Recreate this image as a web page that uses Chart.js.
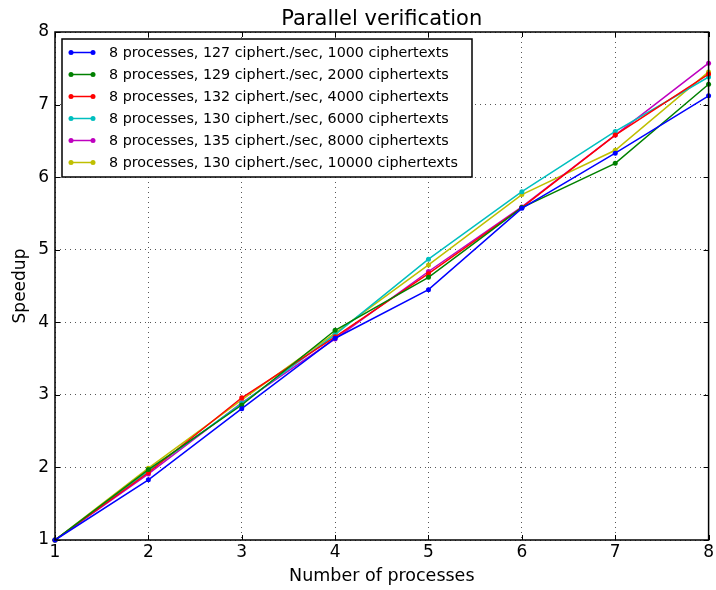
<!DOCTYPE html>
<html>
<head>
<meta charset="utf-8">
<script src="https://cdn.jsdelivr.net/npm/chart.js@4/dist/chart.umd.min.js"></script>
<style>
  html, body { margin: 0; padding: 0; background: #fff; }
  #wrap { width: 716px; height: 590px; position: relative; }
</style>
</head>
<body>
<div id="wrap"><canvas id="c" width="716" height="590"></canvas></div>
<script>
const processes = [1, 2, 3, 4, 5, 6, 7, 8];
const seriesLabels = [
  "8 processes, 127 ciphert./sec, 1000 ciphertexts",
  "8 processes, 129 ciphert./sec, 2000 ciphertexts",
  "8 processes, 132 ciphert./sec, 4000 ciphertexts",
  "8 processes, 130 ciphert./sec, 6000 ciphertexts",
  "8 processes, 135 ciphert./sec, 8000 ciphertexts",
  "8 processes, 130 ciphert./sec, 10000 ciphertexts"
];
const speedup1000  = [1, 1.83, 2.81, 3.78, 4.45, 5.57, 6.33, 7.12];
const speedup2000  = [1, 1.97, 2.86, 3.89, 4.62, 5.58, 6.19, 7.28];
const speedup4000  = [1, 1.93, 2.96, 3.80, 4.67, 5.58, 6.58, 7.42];
const speedup6000  = [1, 1.95, 2.88, 3.83, 4.87, 5.80, 6.63, 7.38];
const speedup8000  = [1, 1.91, 2.89, 3.77, 4.70, 5.59, 6.58, 7.57];
const speedup10000 = [1, 1.99, 2.93, 3.85, 4.79, 5.76, 6.37, 7.45];
const yTicks = [1, 2, 3, 4, 5, 6, 7, 8];
const titleText = "Parallel verification";
const xTitle = "Number of processes";
const yTitle = "Speedup";

const colors = ["#0000ff", "#008000", "#ff0000", "#00bfbf", "#bf00bf", "#bfbf00"];
const allSeries = [speedup1000, speedup2000, speedup4000, speedup6000, speedup8000, speedup10000];
const FONT = "'DejaVu Sans', sans-serif";

const datasets = allSeries.map((s, i) => ({
  label: seriesLabels[i],
  data: processes.map((p, j) => ({x: p, y: s[j]})),
  borderColor: colors[i],
  backgroundColor: colors[i],
  borderWidth: 1.5,
  pointRadius: 2.5,
  pointBorderWidth: 0,
  pointHoverRadius: 2.5,
  tension: 0,
  clip: false
}));

const framePlugin = {
  id: 'frame',
  beforeDatasetsDraw(chart) {
    const {ctx, chartArea: a, scales} = chart;
    ctx.save();
    ctx.strokeStyle = '#000';
    ctx.lineWidth = 1;
    processes.forEach(v => {
      const x = Math.round(scales.x.getPixelForValue(v)) + 0.5;
      ctx.beginPath();
      ctx.moveTo(x, a.bottom); ctx.lineTo(x, a.bottom - 5);
      ctx.moveTo(x, a.top); ctx.lineTo(x, a.top + 5);
      ctx.stroke();
    });
    yTicks.forEach(v => {
      const y = Math.round(scales.y.getPixelForValue(v)) + 0.5;
      ctx.beginPath();
      ctx.moveTo(a.left, y); ctx.lineTo(a.left + 5, y);
      ctx.moveTo(a.right, y); ctx.lineTo(a.right - 5, y);
      ctx.stroke();
    });
    ctx.restore();
  },
  afterDraw(chart) {
    const {ctx, chartArea: a} = chart;
    ctx.save();
    ctx.strokeStyle = '#000';
    ctx.lineWidth = 1.5;
    ctx.strokeRect(a.left, a.top, a.right - a.left, a.bottom - a.top);
    ctx.fillStyle = '#000';
    ctx.font = "21px " + FONT;
    ctx.textAlign = 'center';
    ctx.textBaseline = 'alphabetic';
    ctx.fillText(titleText, (a.left + a.right) / 2, 25);
    const lx = 62, ly = 39, lw = 410, lh = 138, rowH = 22;
    ctx.fillStyle = '#fff';
    ctx.fillRect(lx, ly, lw, lh);
    ctx.strokeStyle = '#000';
    ctx.lineWidth = 1.5;
    ctx.strokeRect(lx, ly, lw, lh);
    ctx.font = "14.3px " + FONT;
    ctx.textAlign = 'left';
    ctx.textBaseline = 'middle';
    chart.data.datasets.forEach((ds, i) => {
      const y = 52.5 + i * rowH;
      ctx.strokeStyle = ds.borderColor;
      ctx.fillStyle = ds.borderColor;
      ctx.lineWidth = 1.5;
      ctx.beginPath(); ctx.moveTo(71, y); ctx.lineTo(93, y); ctx.stroke();
      [71, 93].forEach(px => { ctx.beginPath(); ctx.arc(px, y, 2.5, 0, Math.PI * 2); ctx.fill(); });
      ctx.fillStyle = '#000';
      ctx.fillText(ds.label, 109, y + 1);
    });
    ctx.restore();
  }
};

new Chart(document.getElementById('c'), {
  type: 'line',
  data: { datasets },
  options: {
    responsive: false,
    animation: false,
    events: [],
    layout: { padding: { top: 32, right: 7, left: 0, bottom: 0 } },
    plugins: { legend: { display: false }, title: { display: false }, tooltip: { enabled: false } },
    scales: {
      x: {
        type: 'linear',
        min: 1, max: 8,
        afterFit(s) { s.height = 50; },
        afterBuildTicks(s) { s.ticks = processes.map(v => ({value: v})); },
        grid: { color: '#555', lineWidth: 1, drawTicks: false },
        border: { display: false, dash: [1, 4] },
        ticks: { color: '#000', font: { family: FONT, size: 17 }, padding: 2, maxRotation: 0 },
        title: { display: true, text: xTitle, color: '#000', font: { family: FONT, size: 17.5 }, padding: { top: 0, bottom: 3 } }
      },
      y: {
        type: 'linear',
        min: 1, max: 8,
        afterFit(s) { s.width = 55; },
        afterBuildTicks(s) { s.ticks = yTicks.map(v => ({value: v})); },
        grid: { color: '#555', lineWidth: 1, drawTicks: false },
        border: { display: false, dash: [1, 4] },
        ticks: { color: '#000', font: { family: FONT, size: 17 }, padding: 6 },
        title: { display: true, text: yTitle, color: '#000', font: { family: FONT, size: 17 }, padding: { top: 10, bottom: 0 } }
      }
    }
  },
  plugins: [framePlugin]
});
</script>
</body>
</html>
